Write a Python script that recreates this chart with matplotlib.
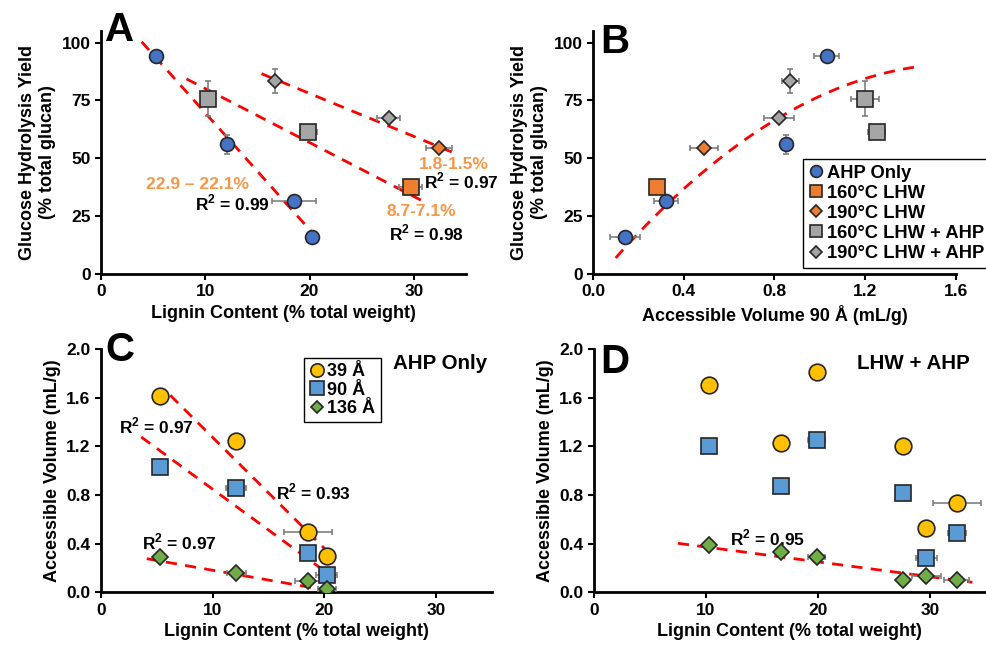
import numpy as np
import matplotlib
matplotlib.use("Agg")
import matplotlib.pyplot as plt

plt.rcParams['font.family'] = ['Liberation Sans', 'DejaVu Sans']
plt.rcParams['font.weight'] = 'bold'
plt.rcParams['axes.labelweight'] = 'bold'
plt.rcParams['mathtext.fontset'] = 'custom'
plt.rcParams['mathtext.rm'] = 'Liberation Sans:bold'

# ---- panel A / B data (grouped by pretreatment) ----
lig_ahp = [5.3, 12.1, 18.5, 20.2]
glc_ahp = [94, 56, 31.5, 16]
v90_ahp = [1.03, 0.85, 0.32, 0.14]
lig_160 = [29.7]
glc_160 = [37.4]
v90_160 = [0.28]
lig_190 = [32.4]
glc_190 = [54.6]
v90_190 = [0.49]
lig_160a = [10.3, 19.9]
glc_160a = [75.8, 61.2]
v90_160a = [1.2, 1.25]
lig_190a = [16.7, 27.6]
glc_190a = [83.4, 67.3]
v90_190a = [0.87, 0.82]

# error bars A (lignin x, glucose y)
a_xerr = {'ahp': [0, 0, 2.1, 0], '160': [1.1], '190': [1.25], '160a': [0, 0.8], '190a': [0.3, 1.1]}
a_yerr = {'ahp': [0, 4, 0, 0], '160': [0], '190': [0], '160a': [7.4, 0], '190a': [5, 0]}
# error bars B (volume x, glucose y)
b_xerr = {'ahp': [0.054, 0, 0.053, 0.066], '160': [0], '190': [0.063], '160a': [0.062, 0.037], '190a': [0.037, 0.065]}
b_yerr = a_yerr

# ---- panel C (AHP only) ----
lig_c = [5.3, 12.1, 18.5, 20.2]
v39_c = [1.615, 1.243, 0.493, 0.30]
v90_c = [1.03, 0.857, 0.32, 0.142]
v136_c = [0.293, 0.161, 0.095, 0.025]
c_xerr = [[0, 0, 2.15, 0], [0, 0.9, 0.3, 0.95], [0, 0.85, 1.13, 0.8]]
c_yerr = [[0, 0, 0, 0.03], [0, 0, 0, 0], [0, 0, 0.03, 0.02]]

# ---- panel D (LHW + AHP) ----
lig_d = [10.3, 16.7, 19.9, 27.6, 29.7, 32.4]
v39_d = [1.70, 1.23, 1.81, 1.20, 0.53, 0.73]
v90_d = [1.20, 0.87, 1.25, 0.82, 0.28, 0.49]
v136_d = [0.39, 0.33, 0.29, 0.10, 0.13, 0.10]
d_xerr = [[0, 0, 0, 0, 0, 2.15], [0, 0, 0.75, 0, 0.9, 0.82], [0, 0, 0.75, 0, 1.26, 1.1]]
d_yerr = [[0, 0, 0, 0, 0.03, 0], [0, 0, 0.03, 0, 0, 0], [0, 0, 0, 0, 0.035, 0.035]]

# trend lines: slope, intercept, x start, x end
trend_a = [(-5.04, 120.0, 3.9, 20.2), (-2.33, 103.4, 8.2, 30.9), (-1.855, 115.1, 15.4, 34.0)]
trend_b_poly = [-36.2, 117.5, -4.45]
trend_b_range = (0.1, 1.43)
trend_c = [(-0.0912, 2.185, 6.2, 20.9), (-0.0671, 1.518, 3.6, 21.0), (-0.0161, 0.342, 4.1, 19.9)]
trend_d = [(-0.01219, 0.494, 7.5, 33.8)]

blue = '#4472C4'
orange = '#ED7D31'
gray = '#A5A5A5'
yellow = '#FFC000'
lblue = '#5B9BD5'
green = '#70AD47'
edge = '#262626'
ebar = '#7F7F7F'
red = '#FF0000'
otext = '#F79646'
R2 = r'R$^{\mathrm{2}}$'

fig = plt.figure(figsize=(9.87, 6.48), dpi=100)
axA = fig.add_axes([0.1023, 0.5772, 0.3698, 0.375])
axB = fig.add_axes([0.6008, 0.5772, 0.3678, 0.375])
axC = fig.add_axes([0.1023, 0.086, 0.3961, 0.3755])
axD = fig.add_axes([0.6018, 0.086, 0.397, 0.3755])

LAB = 13


def style(ax):
    for s in ['top', 'right']:
        ax.spines[s].set_visible(False)
    for s in ['left', 'bottom']:
        ax.spines[s].set_linewidth(2)
    ax.tick_params(width=1.5, length=4, labelsize=12.5)
    for lab in ax.get_xticklabels() + ax.get_yticklabels():
        lab.set_fontweight('bold')


def pts(ax, x, y, xe, ye, color, marker, ms, label=None):
    ax.errorbar(x, y, xerr=xe, yerr=ye, fmt=marker, color=color, mfc=color, mec=edge, mew=1.2,
                ms=ms, ecolor=ebar, elinewidth=1.2, capsize=2, capthick=1.2, zorder=3, label=label)


def trend(ax, lines):
    for m, b, x0, x1 in lines:
        xs = np.array([x0, x1])
        ax.plot(xs, m * xs + b, color=red, ls=(0, (4, 3)), lw=2, zorder=2)


def legend(ax, anchor, fs, spacing, scale):
    hs, ls = ax.get_legend_handles_labels()
    hs = [h[0] for h in hs]
    leg = ax.legend(hs, ls, loc='upper left', bbox_to_anchor=anchor, fontsize=fs,
                    frameon=True, fancybox=False, edgecolor='black', framealpha=1,
                    handlelength=0.8, handletextpad=0.2, labelspacing=spacing, borderpad=0.3,
                    borderaxespad=0, markerscale=scale)
    leg.get_frame().set_linewidth(1)


# ---- A ----
pts(axA, lig_ahp, glc_ahp, a_xerr['ahp'], a_yerr['ahp'], blue, 'o', 10)
pts(axA, lig_160, glc_160, a_xerr['160'], a_yerr['160'], orange, 's', 11)
pts(axA, lig_190, glc_190, a_xerr['190'], a_yerr['190'], orange, 'D', 7)
pts(axA, lig_160a, glc_160a, a_xerr['160a'], a_yerr['160a'], gray, 's', 11)
pts(axA, lig_190a, glc_190a, a_xerr['190a'], a_yerr['190a'], gray, 'D', 7)
trend(axA, trend_a)
axA.set_xlim(0, 35)
axA.set_ylim(0, 105)
axA.set_xticks([0, 10, 20, 30])
axA.set_yticks([0, 25, 50, 75, 100])
axA.set_xlabel('Lignin Content (% total weight)', fontsize=LAB)
axA.set_ylabel('Glucose Hydrolysis Yield\n(% total glucan)', fontsize=LAB)
tk = dict(fontsize=12.5, fontweight='bold', ha='center', va='center', clip_on=False)
axA.text(9.3, 38.6, '22.9 – 22.1%', color=otext, **tk)
axA.text(12.6, 30.8, R2 + ' = 0.99', color='black', **tk)
axA.text(33.8, 47.5, '1.8-1.5%', color=otext, **tk)
axA.text(34.6, 40.0, R2 + ' = 0.97', color='black', **tk)
axA.text(30.7, 26.9, '8.7-7.1%', color=otext, **tk)
axA.text(31.2, 17.8, R2 + ' = 0.98', color='black', **tk)
style(axA)

# ---- B ----
pts(axB, v90_ahp, glc_ahp, b_xerr['ahp'], b_yerr['ahp'], blue, 'o', 10, 'AHP Only')
pts(axB, v90_160, glc_160, b_xerr['160'], b_yerr['160'], orange, 's', 11, '160°C LHW')
pts(axB, v90_190, glc_190, b_xerr['190'], b_yerr['190'], orange, 'D', 7, '190°C LHW')
pts(axB, v90_160a, glc_160a, b_xerr['160a'], b_yerr['160a'], gray, 's', 11, '160°C LHW + AHP')
pts(axB, v90_190a, glc_190a, b_xerr['190a'], b_yerr['190a'], gray, 'D', 7, '190°C LHW + AHP')
xb = np.linspace(trend_b_range[0], trend_b_range[1], 100)
axB.plot(xb, np.polyval(trend_b_poly, xb), color=red, ls=(0, (4, 3)), lw=2, zorder=2)
axB.set_xlim(0, 1.6)
axB.set_ylim(0, 105)
axB.set_xticks([0, 0.4, 0.8, 1.2, 1.6])
axB.set_xticklabels(['0.0', '0.4', '0.8', '1.2', '1.6'])
axB.set_yticks([0, 25, 50, 75, 100])
axB.set_xlabel('Accessible Volume 90 Å (mL/g)', fontsize=LAB)
axB.set_ylabel('Glucose Hydrolysis Yield\n(% total glucan)', fontsize=LAB)
legend(axB, (0.578, 0.473), 13.2, 0.17, 0.85)
style(axB)

# ---- C ----
for vals, col, mk, ms, lab, xe, ye in [(v39_c, yellow, 'o', 12, '39 Å', c_xerr[0], c_yerr[0]),
                                        (v90_c, lblue, 's', 12, '90 Å', c_xerr[1], c_yerr[1]),
                                        (v136_c, green, 'D', 8, '136 Å', c_xerr[2], c_yerr[2])]:
    pts(axC, lig_c, vals, xe, ye, col, mk, ms, lab)
trend(axC, trend_c)
axC.set_xlim(0, 35)
axC.set_ylim(0, 2.0)
axC.set_xticks([0, 10, 20, 30])
axC.set_yticks([0, 0.4, 0.8, 1.2, 1.6, 2.0])
axC.set_yticklabels(['0.0', '0.4', '0.8', '1.2', '1.6', '2.0'])
axC.set_xlabel('Lignin Content (% total weight)', fontsize=LAB)
axC.set_ylabel('Accessible Volume (mL/g)', fontsize=LAB)
axC.text(4.99, 1.369, R2 + ' = 0.97', **tk)
axC.text(19.0, 0.82, R2 + ' = 0.93', **tk)
axC.text(7.0, 0.416, R2 + ' = 0.97', **tk)
axC.text(30.4, 1.88, 'AHP Only', fontsize=14.8, fontweight='bold', ha='center', va='center')
legend(axC, (0.519, 0.964), 13, 0.08, 0.8)
style(axC)

# ---- D ----
for vals, col, mk, ms, xe, ye in [(v39_d, yellow, 'o', 12, d_xerr[0], d_yerr[0]),
                                   (v90_d, lblue, 's', 12, d_xerr[1], d_yerr[1]),
                                   (v136_d, green, 'D', 8, d_xerr[2], d_yerr[2])]:
    pts(axD, lig_d, vals, xe, ye, col, mk, ms)
trend(axD, trend_d)
axD.set_xlim(0, 35)
axD.set_ylim(0, 2.0)
axD.set_xticks([0, 10, 20, 30])
axD.set_yticks([0, 0.4, 0.8, 1.2, 1.6, 2.0])
axD.set_yticklabels(['0.0', '0.4', '0.8', '1.2', '1.6', '2.0'])
axD.set_xlabel('Lignin Content (% total weight)', fontsize=LAB)
axD.set_ylabel('Accessible Volume (mL/g)', fontsize=LAB)
axD.text(15.5, 0.444, R2 + ' = 0.95', **tk)
axD.text(28.5, 1.88, 'LHW + AHP', fontsize=14.8, fontweight='bold', ha='center', va='center')
style(axD)

# panel letters
for lx, ly, let in [(120, 30, 'A'), (615, 42, 'B'), (120, 350, 'C'), (615, 362, 'D')]:
    fig.text(lx / 987, 1 - ly / 648, let, fontsize=29, fontweight='bold', ha='center', va='center')

fig.savefig('out.png', dpi=100)
